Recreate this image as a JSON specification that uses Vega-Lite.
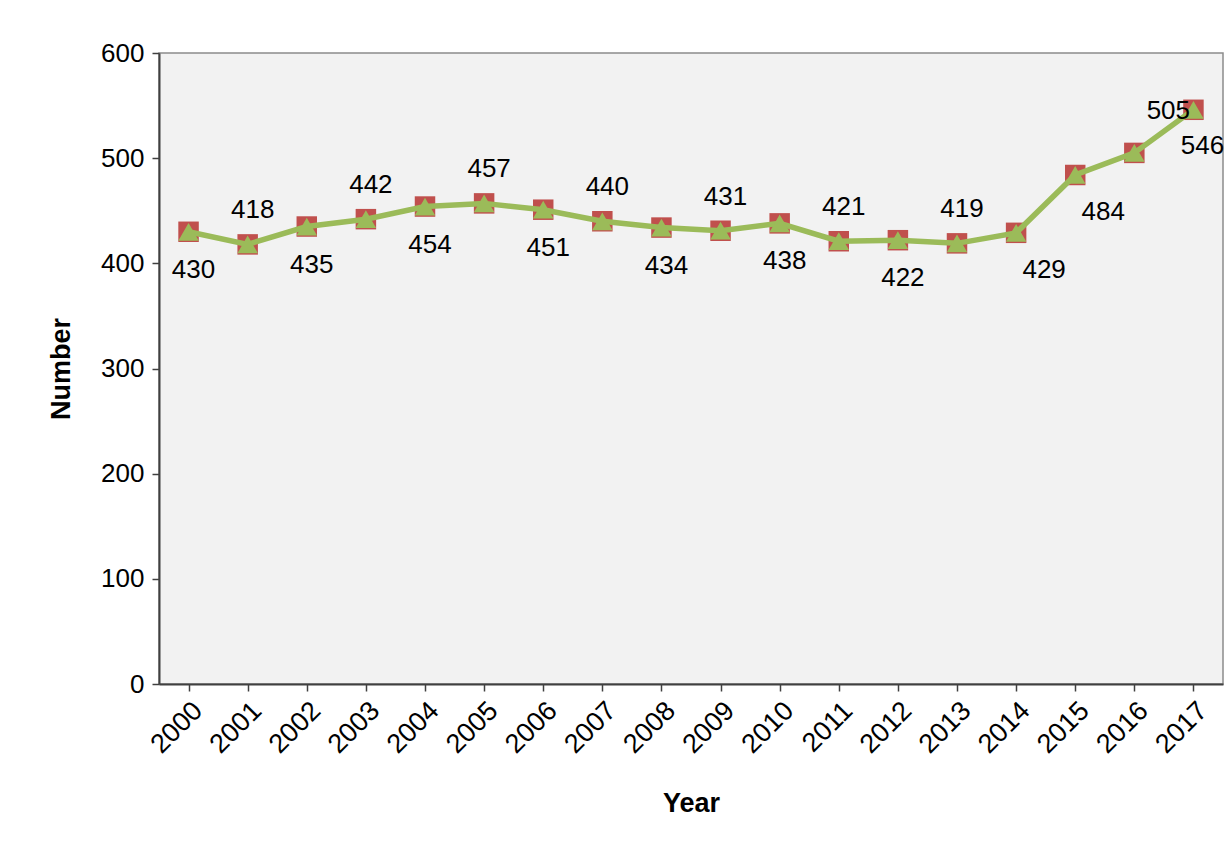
{
  "$schema": "https://vega.github.io/schema/vega-lite/v6.json",
  "width": 1064,
  "height": 631,
  "autosize": {"type": "none"},
  "padding": {"left": 159, "top": 53, "right": 4, "bottom": 171},
  "background": "white",
  "config": {
    "font": "Liberation Sans",
    "view": {"fill": "#f2f2f2", "stroke": "#8c8c8c", "strokeWidth": 1.5},
    "axis": {"labelFont": "Liberation Sans", "titleFont": "Liberation Sans", "labelColor": "black", "titleColor": "black", "domainColor": "#404040", "tickColor": "#404040", "domainWidth": 2, "tickWidth": 1.5}
  },
  "data": {
    "values": [
      {"Year": "2000", "Number": 430},
      {"Year": "2001", "Number": 418},
      {"Year": "2002", "Number": 435},
      {"Year": "2003", "Number": 442},
      {"Year": "2004", "Number": 454},
      {"Year": "2005", "Number": 457},
      {"Year": "2006", "Number": 451},
      {"Year": "2007", "Number": 440},
      {"Year": "2008", "Number": 434},
      {"Year": "2009", "Number": 431},
      {"Year": "2010", "Number": 438},
      {"Year": "2011", "Number": 421},
      {"Year": "2012", "Number": 422},
      {"Year": "2013", "Number": 419},
      {"Year": "2014", "Number": 429},
      {"Year": "2015", "Number": 484},
      {"Year": "2016", "Number": 505},
      {"Year": "2017", "Number": 546}
    ]
  },
  "encoding": {
    "x": {
      "field": "Year", "type": "ordinal",
      "scale": {"paddingInner": 0, "paddingOuter": 0},
      "axis": {"title": "Year", "labelAngle": -45, "labelFontSize": 27, "titleFontSize": 27, "titleFontWeight": "bold", "bandPosition": 0, "tickSize": 7, "labelPadding": 6, "labelDx": -4, "titlePadding": 33, "grid": false}
    },
    "y": {
      "field": "Number", "type": "quantitative",
      "scale": {"domain": [0, 600]},
      "axis": {"title": "Number", "values": [0, 100, 200, 300, 400, 500, 600], "labelFontSize": 26, "titleFontSize": 27, "titleFontWeight": "bold", "tickSize": 7, "labelPadding": 8, "titlePadding": 25, "grid": false}
    }
  },
  "layer": [
    {"mark": {"type": "point", "shape": "square", "filled": true, "color": "#c0504d", "size": 420, "opacity": 1}},
    {"mark": {"type": "line", "color": "#9bbb59", "strokeWidth": 5.5}},
    {"mark": {"type": "point", "shape": "triangle-up", "filled": true, "color": "#9bbb59", "size": 420, "opacity": 1}},
    {
      "transform": [{"filter": {"field": "Year", "oneOf": ["2001", "2003", "2005", "2007", "2009", "2011", "2013"]}}],
      "mark": {"type": "text", "fontSize": 26, "dy": -34, "dx": 5, "color": "black", "font": "Liberation Sans"},
      "encoding": {"text": {"field": "Number"}}
    },
    {
      "transform": [{"filter": {"field": "Year", "oneOf": ["2000", "2002", "2004", "2006", "2008", "2010", "2012"]}}],
      "mark": {"type": "text", "fontSize": 26, "dy": 38, "dx": 5, "color": "black", "font": "Liberation Sans"},
      "encoding": {"text": {"field": "Number"}}
    },
    {
      "transform": [{"filter": {"field": "Year", "oneOf": ["2014", "2015"]}}],
      "mark": {"type": "text", "fontSize": 26, "dy": 37, "dx": 28, "color": "black", "font": "Liberation Sans"},
      "encoding": {"text": {"field": "Number"}}
    },
    {
      "transform": [{"filter": {"field": "Year", "oneOf": ["2017"]}}],
      "mark": {"type": "text", "fontSize": 26, "dy": 36, "dx": 9, "color": "black", "font": "Liberation Sans"},
      "encoding": {"text": {"field": "Number"}}
    },
    {
      "transform": [{"filter": {"field": "Year", "oneOf": ["2016"]}}],
      "mark": {"type": "text", "fontSize": 26, "dy": -42, "dx": 34, "color": "black", "font": "Liberation Sans"},
      "encoding": {"text": {"field": "Number"}}
    }
  ]
}
